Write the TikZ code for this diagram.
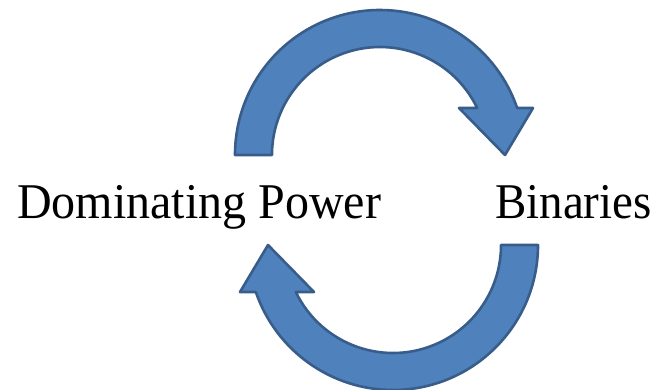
\documentclass[tikz,border=0pt]{standalone}
\usepackage{fontspec}
\setmainfont{Liberation Serif}
\definecolor{arrowfill}{HTML}{4F81BD}
\definecolor{arrowline}{HTML}{385D8A}
\tikzset{
  circarrow/.style={fill=arrowfill, draw=arrowline, line width=2.6pt, line join=round},
  labeltext/.style={inner sep=0pt, font=\fontsize{50}{60}\selectfont, anchor=base west}
}
\begin{document}
\begin{tikzpicture}[x=1pt,y=-1pt]
\useasboundingbox (0,0) rectangle (658,389);
% top arrow
\def\toparrow{
  (235,155) arc[start angle=180, end angle=341.08, radius=145]
  -- (533,108) -- (505,155) -- (459,108) -- (477.2,108)
  arc[start angle=334.2, end angle=180, radius=108] -- cycle
}
\path[circarrow] \toparrow;
\begin{scope}[rotate around={180:(386.5,200)}]
  \path[circarrow] \toparrow;
\end{scope}
\node[labeltext] (dom) at (17,218) {\scalebox{0.96}[1]{Dominating Power}};
\node[labeltext] (bin) at (495,218) {\scalebox{0.94}[1]{Binaries}};
\end{tikzpicture}
\end{document}
